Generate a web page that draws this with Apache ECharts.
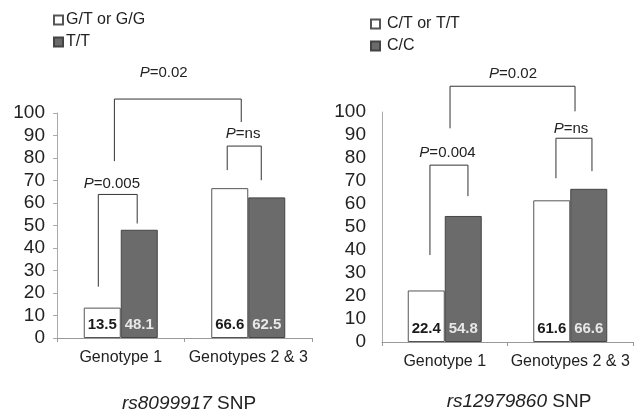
<!DOCTYPE html>
<html>
<head>
<meta charset="utf-8">
<script src="https://cdn.jsdelivr.net/npm/echarts@6/dist/echarts.min.js"></script>
<style>
html,body{margin:0;padding:0;background:#fff;}
#c{width:638px;height:411px;}
</style>
</head>
<body>
<div id="c"></div>
<script>
// ---- data ----
const categories = ['Genotype 1', 'Genotypes 2 & 3'];
const leftNames = ['G/T or G/G', 'T/T'];
const rightNames = ['C/T or T/T', 'C/C'];
const leftWhite = [13.5, 66.6];
const leftDark = [48.1, 62.5];
const rightWhite = [22.4, 61.6];
const rightDark = [54.8, 66.6];
const leftTitle = ['rs8099917', ' SNP'];
const rightTitle = ['rs12979860', ' SNP'];
// significance brackets: [x start, x end (category units from first category centre), top value, left leg end, right leg end]
const leftBrackets = [
  [-0.05, 0.945, 106.2, 78.6, 96.0],
  [-0.176, 0.129, 63.8, 22.8, 50.9],
  [0.835, 1.102, 85.3, 74.6, 70.1]
];
const rightBrackets = [
  [0.042, 1.038, 111.2, 92.9, 100.3],
  [-0.118, 0.185, 76.9, 37.8, 63.4],
  [0.886, 1.173, 88.6, 71.2, 74.3]
];
// p-value labels: [text, x (category units), value]
const leftP = [['0.02', 0.337, 117.9], ['0.005', -0.07, 68.3], ['ns', 0.96, 90.6]];
const rightP = [['0.02', 0.544, 116.4], ['0.004', 0.022, 82.1], ['ns', 1.006, 92.5]];

const FONT = "'Liberation Sans', Arial, sans-serif";
const DARK = '#6b6b6b';

function bracketSeries(idx, brackets, pLabels) {
  const data = brackets.map((b, i) => [0, b[2]]).concat(pLabels.map(p => [0, p[2]]));
  return {
    type: 'custom',
    xAxisIndex: idx, yAxisIndex: idx,
    clip: false,
    silent: true,
    data: data,
    renderItem: function (params, api) {
      const i = params.dataIndex;
      const c0 = api.coord([0, 0]);
      const c1 = api.coord([1, 0]);
      const w = c1[0] - c0[0];
      const X = f => c0[0] + f * w;
      const Y = v => api.coord([0, v])[1];
      if (i < brackets.length) {
        const b = brackets[i];
        return {
          type: 'polyline',
          shape: { points: [[X(b[0]), Y(b[3])], [X(b[0]), Y(b[2])], [X(b[1]), Y(b[2])], [X(b[1]), Y(b[4])]] },
          style: { stroke: '#333', lineWidth: 1, fill: null }
        };
      }
      const p = pLabels[i - brackets.length];
      return {
        type: 'text',
        x: X(p[1]), y: Y(p[2]),
        style: {
          text: '{i|P}{n|=' + p[0] + '}',
          align: 'center', verticalAlign: 'middle',
          fontSize: 15, fontFamily: FONT, fill: '#222',
          rich: {
            i: { fontStyle: 'italic', fontSize: 15, fontFamily: FONT, fill: '#222' },
            n: { fontSize: 15, fontFamily: FONT, fill: '#222' }
          }
        }
      };
    }
  };
}

function barSeries(idx, name, values, dark) {
  return {
    type: 'bar', name: name,
    xAxisIndex: idx, yAxisIndex: idx,
    data: values,
    barWidth: 37, barGap: '0%',
    itemStyle: dark ? { color: DARK, borderColor: '#444', borderWidth: 1 } : { color: '#fff', borderColor: '#555', borderWidth: 1 },
    label: {
      show: true, position: 'insideBottom', distance: 6,
      fontFamily: FONT, fontSize: 15, fontWeight: 'bold',
      color: dark ? '#e8e8e8' : '#1a1a1a'
    }
  };
}

function xAxis(idx) {
  return {
    type: 'category', gridIndex: idx, data: categories,
    axisLine: { lineStyle: { color: '#999', width: 1 } },
    axisTick: { show: true, length: 4, lineStyle: { color: '#999' } },
    axisLabel: { fontFamily: FONT, fontSize: 16, color: '#222', margin: 12, interval: 0 }
  };
}
function yAxis(idx, margin) {
  return {
    type: 'value', gridIndex: idx, min: 0, max: 100, interval: 10,
    splitLine: { show: false },
    axisLine: { show: true, lineStyle: { color: '#aaa', width: 1 } },
    axisTick: { show: idx === 0, length: 4, lineStyle: { color: '#aaa' } },
    axisLabel: { fontFamily: FONT, fontSize: 19, color: '#222', margin: margin }
  };
}

const titleRich = {
  i: { fontStyle: 'italic', fontSize: 19, fontFamily: FONT, color: '#222' },
  n: { fontSize: 19, fontFamily: FONT, color: '#222' }
};

const option = {
  animation: false,
  backgroundColor: '#fff',
  title: [
    { text: '{i|' + leftTitle[0] + '}{n|' + leftTitle[1] + '}', left: 189, top: 394, textAlign: 'center', padding: 0,
      textStyle: { fontSize: 19, fontWeight: 'normal', fontFamily: FONT, color: '#222', rich: titleRich } },
    { text: '{i|' + rightTitle[0] + '}{n|' + rightTitle[1] + '}', left: 519, top: 392, textAlign: 'center', padding: 0,
      textStyle: { fontSize: 19, fontWeight: 'normal', fontFamily: FONT, color: '#222', rich: titleRich } }
  ],
  legend: [
    { data: leftNames, orient: 'vertical', left: 53, top: 11, itemWidth: 9, itemHeight: 9, itemGap: 4, padding: 0,
      icon: 'rect', textStyle: { fontFamily: FONT, fontSize: 16, color: '#222', lineHeight: 18, padding: [0, 0, 0, -2] } },
    { data: rightNames, orient: 'vertical', left: 370, top: 15, itemWidth: 9, itemHeight: 9, itemGap: 4, padding: 0,
      icon: 'rect', textStyle: { fontFamily: FONT, fontSize: 16, color: '#222', lineHeight: 18, padding: [0, 0, 0, 2] } }
  ],
  grid: [
    { left: 57, width: 255, top: 113, bottom: 73 },
    { left: 382, width: 251, top: 112, bottom: 69 }
  ],
  xAxis: [xAxis(0), xAxis(1)],
  yAxis: [yAxis(0, 12), yAxis(1, 16)],
  series: [
    barSeries(0, leftNames[0], leftWhite, false),
    barSeries(0, leftNames[1], leftDark, true),
    barSeries(1, rightNames[0], rightWhite, false),
    barSeries(1, rightNames[1], rightDark, true),
    bracketSeries(0, leftBrackets, leftP),
    bracketSeries(1, rightBrackets, rightP)
  ]
};
const chart = echarts.init(document.getElementById('c'), null, { renderer: 'canvas' });
chart.setOption(option);
</script>
</body>
</html>
